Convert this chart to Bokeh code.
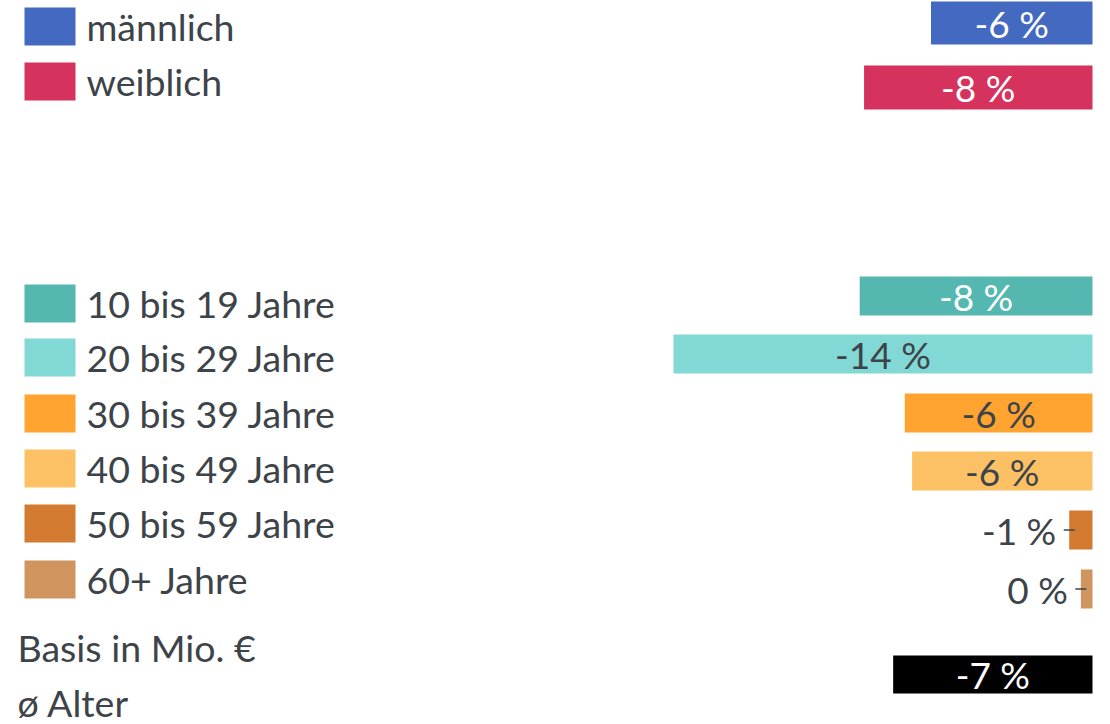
from bokeh.plotting import figure
from bokeh.models import Range1d, ColumnDataSource
from bokeh.embed import file_html
from bokeh.resources import INLINE
from bokeh.core.properties import value

# ---------------- data ----------------
categories = ["männlich", "weiblich",
              "10 bis 19 Jahre", "20 bis 29 Jahre", "30 bis 39 Jahre",
              "40 bis 49 Jahre", "50 bis 59 Jahre", "60+ Jahre"]
cat_changes = [-5.55, -7.85, -8.0, -14.4, -6.45, -6.2, -0.8, -0.4]
cat_labels = ["-6 %", "-8 %", "-8 %", "-14 %", "-6 %", "-6 %", "-1 %", "0 %"]
basis_change = -6.85
basis_label = "-7 %"
footer_labels = ["Basis in Mio. €", "ø Alter"]

# ---------------- styles / layout ----------------
DARK = "#3d4449"
colors = ["#4469C1", "#D5325E", "#55B8B0", "#81D8D5", "#FFA431",
          "#FDC165", "#D27A2F", "#D0955E"]
label_colors = ["white", "white", "white", DARK, DARK, DARK, DARK, DARK]
FONT = value("Lato")
FS = "37px"
FS_LEG = "37.5px"

# vertical layout (pixel positions of the rows)
bar_y = [22.5, 87, 295.5, 353.5, 412.5, 470.5, 529.5, 588.5]
bar_h = [43, 44, 39, 39, 39, 39, 39, 39]
legend_y = [26, 81, 303, 357, 413, 468, 523, 579]
basis_y, basis_h = 674, 38
footer_y = [647, 702]

PX_PER_PCT = 29.1
W, H = 1110, 724
ZERO_PX = 1092

x_start = -ZERO_PX / PX_PER_PCT
x_end = (W - ZERO_PX) / PX_PER_PCT

p = figure(width=W, height=H, output_backend="svg", toolbar_location=None,
           x_range=Range1d(x_start, x_end), y_range=Range1d(H, 0),
           min_border=0, outline_line_color=None)
p.extra_x_ranges = {"px": Range1d(0, W)}
p.axis.visible = False
p.grid.visible = False
p.background_fill_color = "white"
p.border_fill_color = "white"

all_changes = cat_changes + [basis_change]
all_labels = cat_labels + [basis_label]
all_y = bar_y + [basis_y]
all_h = bar_h + [basis_h]
all_colors = colors + ["#000000"]
all_label_colors = label_colors + ["white"]

bars = ColumnDataSource(dict(y=all_y, h=all_h, v=all_changes, c=all_colors))
p.hbar(y="y", height="h", left="v", right=0, fill_color="c", line_color=None,
       source=bars)

inside = [i for i, v in enumerate(all_changes) if abs(v) >= 2]
outside = [i for i, v in enumerate(all_changes) if abs(v) < 2]

src_in = ColumnDataSource(dict(
    x=[all_changes[i] / 2 for i in inside],
    y=[all_y[i] for i in inside],
    t=[all_labels[i] for i in inside],
    c=[all_label_colors[i] for i in inside]))
p.text(x="x", y="y", text="t", text_color="c", text_font=FONT,
       text_font_size=FS, text_align="center", text_baseline="middle",
       source=src_in)

src_out = ColumnDataSource(dict(
    x=[all_changes[i] for i in outside],
    y=[all_y[i] for i in outside],
    t=[all_labels[i] for i in outside]))
p.text(x="x", y="y", text="t", text_color=DARK, text_font=FONT,
       text_font_size=FS, text_align="right", text_baseline="middle",
       x_offset=-13, source=src_out)
p.scatter(x="x", y="y", marker="dash", size=11, line_color=DARK,
          line_width=1.5, source=src_out)

# legend swatches and names (pixel x-range)
leg = ColumnDataSource(dict(y=legend_y, c=colors, t=categories))
p.hbar(y="y", height=38, left=24, right=75, fill_color="c", line_color=None,
       x_range_name="px", source=leg)
p.text(x=86, y="y", text="t", text_color=DARK, text_font=FONT,
       text_font_size=FS_LEG, text_align="left", text_baseline="middle",
       x_range_name="px", source=leg)

foot = ColumnDataSource(dict(y=footer_y, t=footer_labels))
p.text(x=17, y="y", text="t", text_color=DARK, text_font=FONT,
       text_font_size=FS_LEG, text_align="left", text_baseline="middle",
       x_range_name="px", source=foot)

open("out.html", "w").write(file_html(p, INLINE))
